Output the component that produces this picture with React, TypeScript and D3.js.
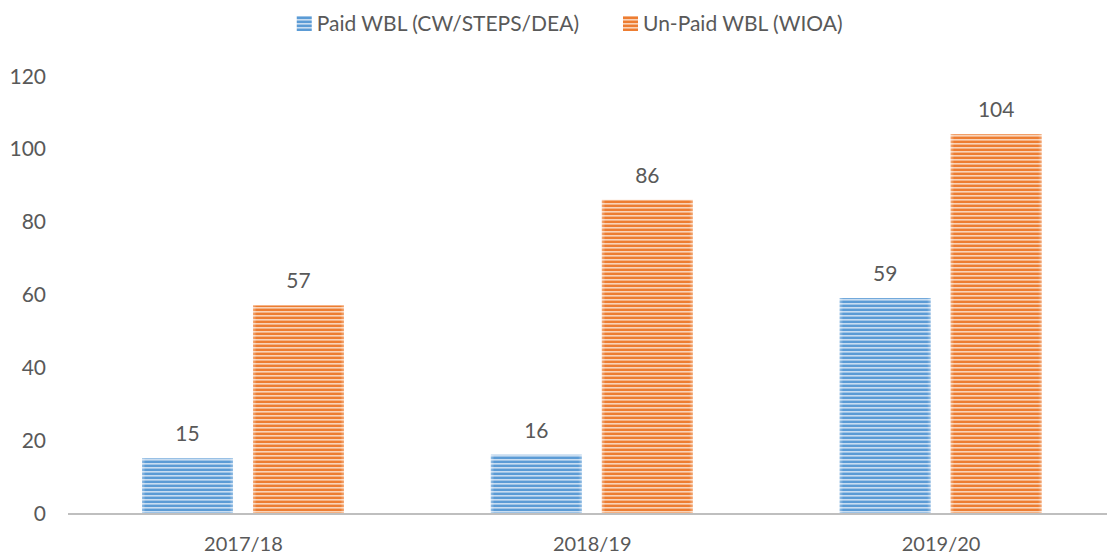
import React, { useLayoutEffect, useRef, useState } from "react";
import * as d3 from "d3";

const categories = ["2017/18", "2018/19", "2019/20"];
const seriesNames = ["Paid WBL (CW/STEPS/DEA)", "Un-Paid WBL (WIOA)"];
const paidValues = [15, 16, 59];
const unpaidValues = [57, 86, 104];
const yTicks = [0, 20, 40, 60, 80, 100, 120];

const W = 1107;
const H = 556;
const colors = ["#5B9BD5", "#ED7D31"];
const lightColors = ["#C9DDF1", "#F9D3B8"];
const FONT = "Lato, 'Open Sans', sans-serif";
const TEXT = "#595959";

export default function App() {
  const x0 = d3.scaleBand<string>().domain(categories).range([69, 1115.5]).paddingInner(0).paddingOuter(0);
  const x1 = d3.scaleBand<number>().domain([0, 1]).range([73, 275]).paddingInner(0.18);
  const y = d3.scaleLinear().domain([0, 120]).range([513, 76]);
  const series = [paidValues, unpaidValues];

  const blueRef = useRef<SVGTextElement>(null);
  const [blueW, setBlueW] = useState(263);
  useLayoutEffect(() => {
    if (blueRef.current) setBlueW(blueRef.current.getComputedTextLength());
  }, []);

  const legendFs = 21;
  const blueTextEnd = 579;
  const orangeSq = 623;
  const legendX = [blueTextEnd - blueW - 20, orangeSq];

  return (
    <svg width={W} height={H} style={{ position: "absolute", left: 0, top: 0, background: "#fff" }}>
      <defs>
        {colors.map((c, i) => (
          <pattern key={i} id={`stripe${i}`} patternUnits="userSpaceOnUse" width={8} height={4} y={1}>
            <rect width={8} height={4} fill={c} />
            <rect y={2} width={8} height={1.6} fill={lightColors[i]} />
          </pattern>
        ))}
        <linearGradient id="edge" x1="0" x2="1" y1="0" y2="0">
          <stop offset="0" stopColor="#fff" stopOpacity={0.35} />
          <stop offset="0.04" stopColor="#fff" stopOpacity={0} />
          <stop offset="0.96" stopColor="#fff" stopOpacity={0} />
          <stop offset="1" stopColor="#fff" stopOpacity={0.35} />
        </linearGradient>
      </defs>

      {/* y tick labels */}
      {yTicks.map((t) => (
        <text key={t} x={46} y={y(t) + 7.5} textAnchor="end" fontFamily={FONT} fontSize={21} fill={TEXT}>
          {t}
        </text>
      ))}

      {/* bars */}
      {categories.map((cat, ci) => (
        <g key={cat} transform={`translate(${x0(cat)},0)`}>
          {series.map((vals, si) => {
            const bx = x1(si)!;
            const bw = x1.bandwidth();
            const top = y(vals[ci]);
            return (
              <g key={si}>
                <rect x={bx} y={top} width={bw} height={y(0) - top} fill={`url(#stripe${si})`} />
                <rect x={bx} y={top} width={bw} height={y(0) - top} fill="url(#edge)" />
                <text x={bx + bw / 2} y={top - 17} textAnchor="middle" fontFamily={FONT} fontSize={21} fill={TEXT}>
                  {vals[ci]}
                </text>
              </g>
            );
          })}
        </g>
      ))}

      {/* x axis */}
      <line x1={68} x2={W} y1={y(0) + 1} y2={y(0) + 1} stroke="#BFBFBF" strokeWidth={2} />
      {categories.map((cat) => (
        <text key={cat} x={x0(cat)! + x0.bandwidth() / 2} y={551} textAnchor="middle" fontFamily={FONT} fontSize={20} fill={TEXT}>
          {cat}
        </text>
      ))}

      {/* legend */}
      {seriesNames.map((name, i) => (
        <g key={name} transform={`translate(${legendX[i]},16)`}>
          <rect width={15} height={15} fill={`url(#stripe${i})`} />
          <text ref={i === 0 ? blueRef : undefined} x={20} y={15} fontFamily={FONT} fontSize={legendFs} fill={TEXT}>
            {name}
          </text>
        </g>
      ))}
    </svg>
  );
}
